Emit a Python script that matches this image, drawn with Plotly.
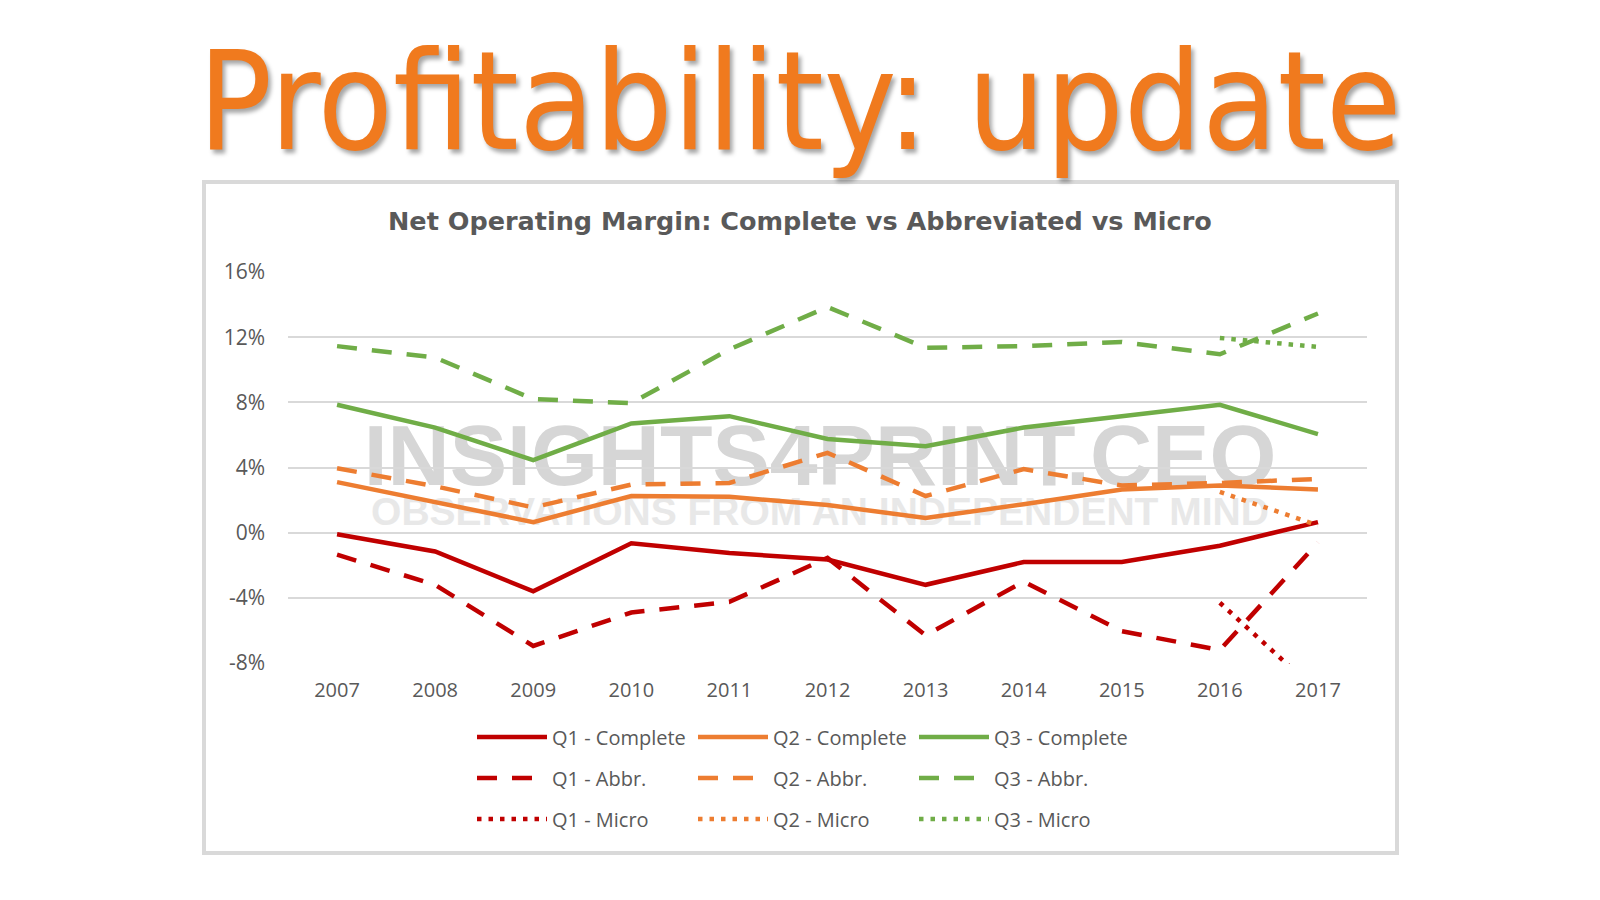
import plotly.graph_objects as go

# ---------------- data ----------------
years = [2007, 2008, 2009, 2010, 2011, 2012, 2013, 2014, 2015, 2016, 2017]
y_ticks = [-8, -4, 0, 4, 8, 12, 16]
y_ticktext = ["-8%", "-4%", "0%", "4%", "8%", "12%", "16%"]

q1_complete = [-0.1, -1.15, -3.6, -0.65, -1.25, -1.65, -3.2, -1.8, -1.8, -0.8, 0.65]
q2_complete = [3.1, 1.85, 0.65, 2.25, 2.2, 1.7, 0.9, 1.75, 2.65, 2.9, 2.65]
q3_complete = [7.85, 6.45, 4.45, 6.7, 7.15, 5.75, 5.3, 6.45, 7.15, 7.85, 6.05]

q1_abbr = [-1.35, -3.2, -6.95, -4.9, -4.25, -1.55, -6.3, -3.0, -6.05, -7.2, -0.6]
q2_abbr = [3.95, 2.85, 1.55, 2.95, 3.05, 4.9, 2.25, 3.9, 2.9, 3.05, 3.3]
q3_abbr = [11.45, 10.75, 8.2, 7.95, 11.25, 13.85, 11.35, 11.45, 11.7, 10.95, 13.45]

q1_micro = [None] * 9 + [-4.3, -9.8]
q2_micro = [None] * 9 + [2.5, 0.45]
q3_micro = [None] * 9 + [11.95, 11.4]

series = [
    ("Q1 - Complete", q1_complete, "#C00000", "solid", "legend"),
    ("Q2 - Complete", q2_complete, "#ED7D31", "solid", "legend"),
    ("Q3 - Complete", q3_complete, "#70AD47", "solid", "legend"),
    ("Q1 - Abbr.", q1_abbr, "#C00000", "20px,15px", "legend2"),
    ("Q2 - Abbr.", q2_abbr, "#ED7D31", "20px,15px", "legend2"),
    ("Q3 - Abbr.", q3_abbr, "#70AD47", "20px,15px", "legend2"),
    ("Q1 - Micro", q1_micro, "#C00000", "4.5px,7px", "legend3"),
    ("Q2 - Micro", q2_micro, "#ED7D31", "4.5px,7px", "legend3"),
    ("Q3 - Micro", q3_micro, "#70AD47", "4.5px,7px", "legend3"),
]

# ---------------- layout helpers (page pixel -> paper) ----------------
OFF = 8                      # default body margin of the html page
W, H = 1600 - 2 * OFF, 900 - 2 * OFF
ML, MR, MT, MB = 280, 225, 263, 228
PW, PH = W - ML - MR, H - MT - MB


def xp(px):
    return (px - OFF - ML) / PW


def yp(py):
    return ((H - MB) - (py - OFF)) / PH


TXT = "#595959"
FONT = "Open Sans, Noto Sans, sans-serif"

fig = go.Figure()
for name, vals, color, dash, leg in series:
    fig.add_trace(go.Scatter(
        x=years, y=vals, name=name, mode="lines",
        line=dict(color=color, width=4.5, dash=dash),
        connectgaps=False, legend=leg, hoverinfo="x+y+name",
    ))

legend_common = dict(
    orientation="h", xanchor="left", yanchor="middle",
    entrywidth=136, entrywidthmode="pixels", itemwidth=70,
    font=dict(family=FONT, size=20, color=TXT),
    bgcolor="rgba(0,0,0,0)", borderwidth=0, tracegroupgap=0,
)

fig.update_layout(
    width=W, height=H,
    margin=dict(l=ML, r=MR, t=MT, b=MB, autoexpand=False),
    paper_bgcolor="white", plot_bgcolor="white",
    showlegend=True,
    legend=dict(x=xp(472), y=yp(737), **legend_common),
    legend2=dict(x=xp(472), y=yp(778), **legend_common),
    legend3=dict(x=xp(472), y=yp(819), **legend_common),
    xaxis=dict(
        range=[2006.5, 2017.5], tickvals=years, ticktext=[str(y) for y in years],
        showgrid=False, zeroline=False, showline=False, ticks="",
        tickfont=dict(family=FONT, size=20, color=TXT), ticklabelstandoff=12,
        fixedrange=True,
    ),
    yaxis=dict(
        range=[-8.06, 16.06], tickvals=y_ticks, ticktext=y_ticktext,
        showgrid=True, gridcolor="#d9d9d9", gridwidth=1.5,
        zeroline=False, showline=False, ticks="",
        tickfont=dict(family=FONT, size=21, color=TXT), ticklabelstandoff=22,
        fixedrange=True,
    ),
    shapes=[
        # outer chart frame
        dict(type="rect", xref="paper", yref="paper",
             x0=xp(204), x1=xp(1397), y0=yp(853), y1=yp(182),
             line=dict(color="#d9d9d9", width=4), fillcolor="rgba(0,0,0,0)",
             layer="below"),
        # watermark line 1
        dict(type="rect", xref="paper", yref="paper",
             x0=xp(340), x1=xp(1300), y0=yp(484), y1=yp(410),
             line=dict(width=0), fillcolor="rgba(0,0,0,0)", layer="between",
             label=dict(text="<b>INSIGHTS4PRINT.CEO</b>", textposition="middle center",
                        font=dict(family="Liberation Sans Narrow, Liberation Sans, sans-serif",
                                  size=86, color="#d6d6d6"))),
        # watermark line 2
        dict(type="rect", xref="paper", yref="paper",
             x0=xp(340), x1=xp(1300), y0=yp(523), y1=yp(491),
             line=dict(width=0), fillcolor="rgba(0,0,0,0)", layer="between",
             label=dict(text="<b>OBSERVATIONS FROM AN INDEPENDENT MIND</b>",
                        textposition="middle center",
                        font=dict(family="Liberation Sans, Arial, sans-serif",
                                  size=39, color="#e8e8e8"))),
    ],
    annotations=[
        dict(text="Profitability: update", xref="paper", yref="paper",
             x=xp(800), y=yp(101), xanchor="center", yanchor="middle",
             showarrow=False,
             font=dict(family="Liberation Sans Narrow, DejaVu Sans Condensed, sans-serif",
                       size=137, color="#F07A1E",
                       shadow="3px 4px 4px rgba(0,0,0,0.35)")),
        dict(text="<b>Net Operating Margin: Complete vs Abbreviated vs Micro</b>",
             xref="paper", yref="paper", x=xp(800), y=yp(221),
             xanchor="center", yanchor="middle", showarrow=False,
             font=dict(family="DejaVu Sans, sans-serif", size=25.5, color=TXT)),
    ],
)

fig.write_html("out.html")
